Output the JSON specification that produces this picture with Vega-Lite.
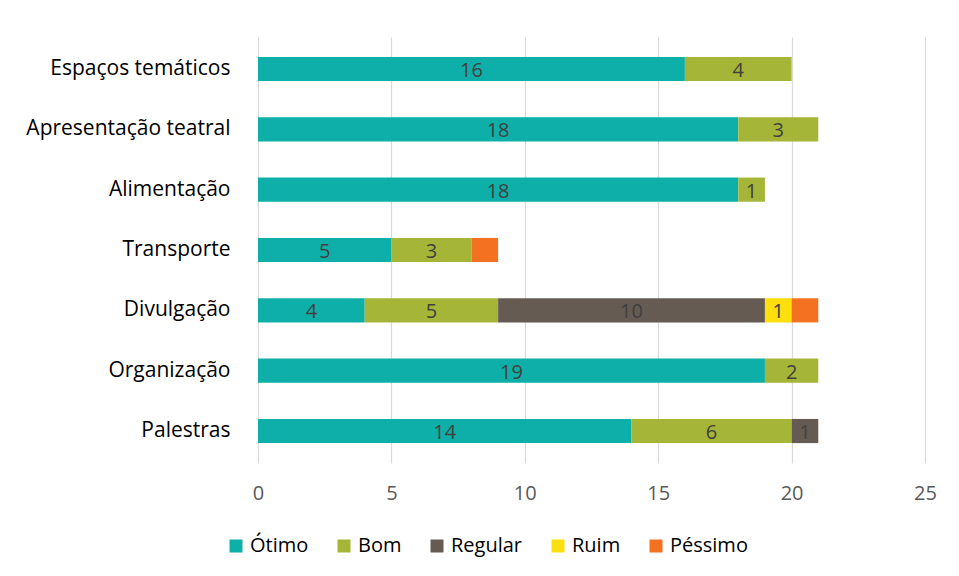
{
  "$schema": "https://vega.github.io/schema/vega-lite/v6.json",
  "autosize": {"type": "none"},
  "padding": {"left": 258, "top": 37, "right": 34, "bottom": 113},
  "width": 667,
  "height": 426,
  "background": "white",
  "config": {"view": {"stroke": null}, "font": "Open Sans"},
  "data": {"values": [
    {"item": "Espaços temáticos", "r": "Ótimo", "v": 16},
    {"item": "Espaços temáticos", "r": "Bom", "v": 4},
    {"item": "Apresentação teatral", "r": "Ótimo", "v": 18},
    {"item": "Apresentação teatral", "r": "Bom", "v": 3},
    {"item": "Alimentação", "r": "Ótimo", "v": 18},
    {"item": "Alimentação", "r": "Bom", "v": 1},
    {"item": "Transporte", "r": "Ótimo", "v": 5},
    {"item": "Transporte", "r": "Bom", "v": 3},
    {"item": "Transporte", "r": "Péssimo", "v": 1},
    {"item": "Divulgação", "r": "Ótimo", "v": 4},
    {"item": "Divulgação", "r": "Bom", "v": 5},
    {"item": "Divulgação", "r": "Regular", "v": 10},
    {"item": "Divulgação", "r": "Ruim", "v": 1},
    {"item": "Divulgação", "r": "Péssimo", "v": 1},
    {"item": "Organização", "r": "Ótimo", "v": 19},
    {"item": "Organização", "r": "Bom", "v": 2},
    {"item": "Palestras", "r": "Ótimo", "v": 14},
    {"item": "Palestras", "r": "Bom", "v": 6},
    {"item": "Palestras", "r": "Regular", "v": 1}
  ]},
  "transform": [
    {"calculate": "indexof(['Ótimo','Bom','Regular','Ruim','Péssimo'], datum.r)", "as": "k"},
    {"stack": "v", "groupby": ["item"], "sort": [{"field": "k", "order": "ascending"}], "as": ["x0", "x1"]},
    {"calculate": "(datum.x0 + datum.x1) / 2", "as": "xm"}
  ],
  "encoding": {
    "y": {
      "field": "item", "type": "nominal",
      "sort": ["Espaços temáticos", "Apresentação teatral", "Alimentação", "Transporte", "Divulgação", "Organização", "Palestras"],
      "scale": {"paddingInner": 0.6, "paddingOuter": 0.33},
      "axis": {"title": null, "domain": false, "ticks": false, "labelPadding": 28, "labelFontSize": 21, "labelLimit": 400, "labelColor": "#000000", "labelFont": "Open Sans"}
    }
  },
  "layer": [
    {
      "mark": {"type": "bar"},
      "encoding": {
        "x": {"field": "x0", "type": "quantitative", "scale": {"domain": [0, 25], "nice": false, "zero": true},
          "axis": {"title": null, "domain": false, "ticks": false, "values": [0, 5, 10, 15, 20, 25], "labelFlush": false, "gridColor": "#d9d9d9", "gridWidth": 1.2, "labelPadding": 20, "labelFontSize": 20, "labelColor": "#595959", "labelFont": "Open Sans"}},
        "x2": {"field": "x1"},
        "color": {
          "field": "r", "type": "nominal",
          "scale": {"domain": ["Ótimo", "Bom", "Regular", "Ruim", "Péssimo"], "range": ["#0DAFA8", "#A5B537", "#665B52", "#FCDF0C", "#F37121"]},
          "legend": {"title": null, "orient": "none", "direction": "horizontal", "legendX": -32, "legendY": 499, "symbolType": "square", "symbolSize": 169, "symbolStrokeWidth": 0, "labelFontSize": 20, "labelColor": "#000000", "labelFont": "Open Sans", "columnPadding": 25, "labelOffset": 4}
        }
      }
    },
    {
      "transform": [{"filter": "datum.r !== 'Péssimo'"}],
      "mark": {"type": "text", "fontSize": 20, "color": "#404040", "baseline": "middle", "align": "center", "dy": 2},
      "encoding": {
        "x": {"field": "xm", "type": "quantitative", "scale": {"domain": [0, 25], "nice": false, "zero": true}},
        "text": {"field": "v", "type": "quantitative"}
      }
    }
  ]
}
